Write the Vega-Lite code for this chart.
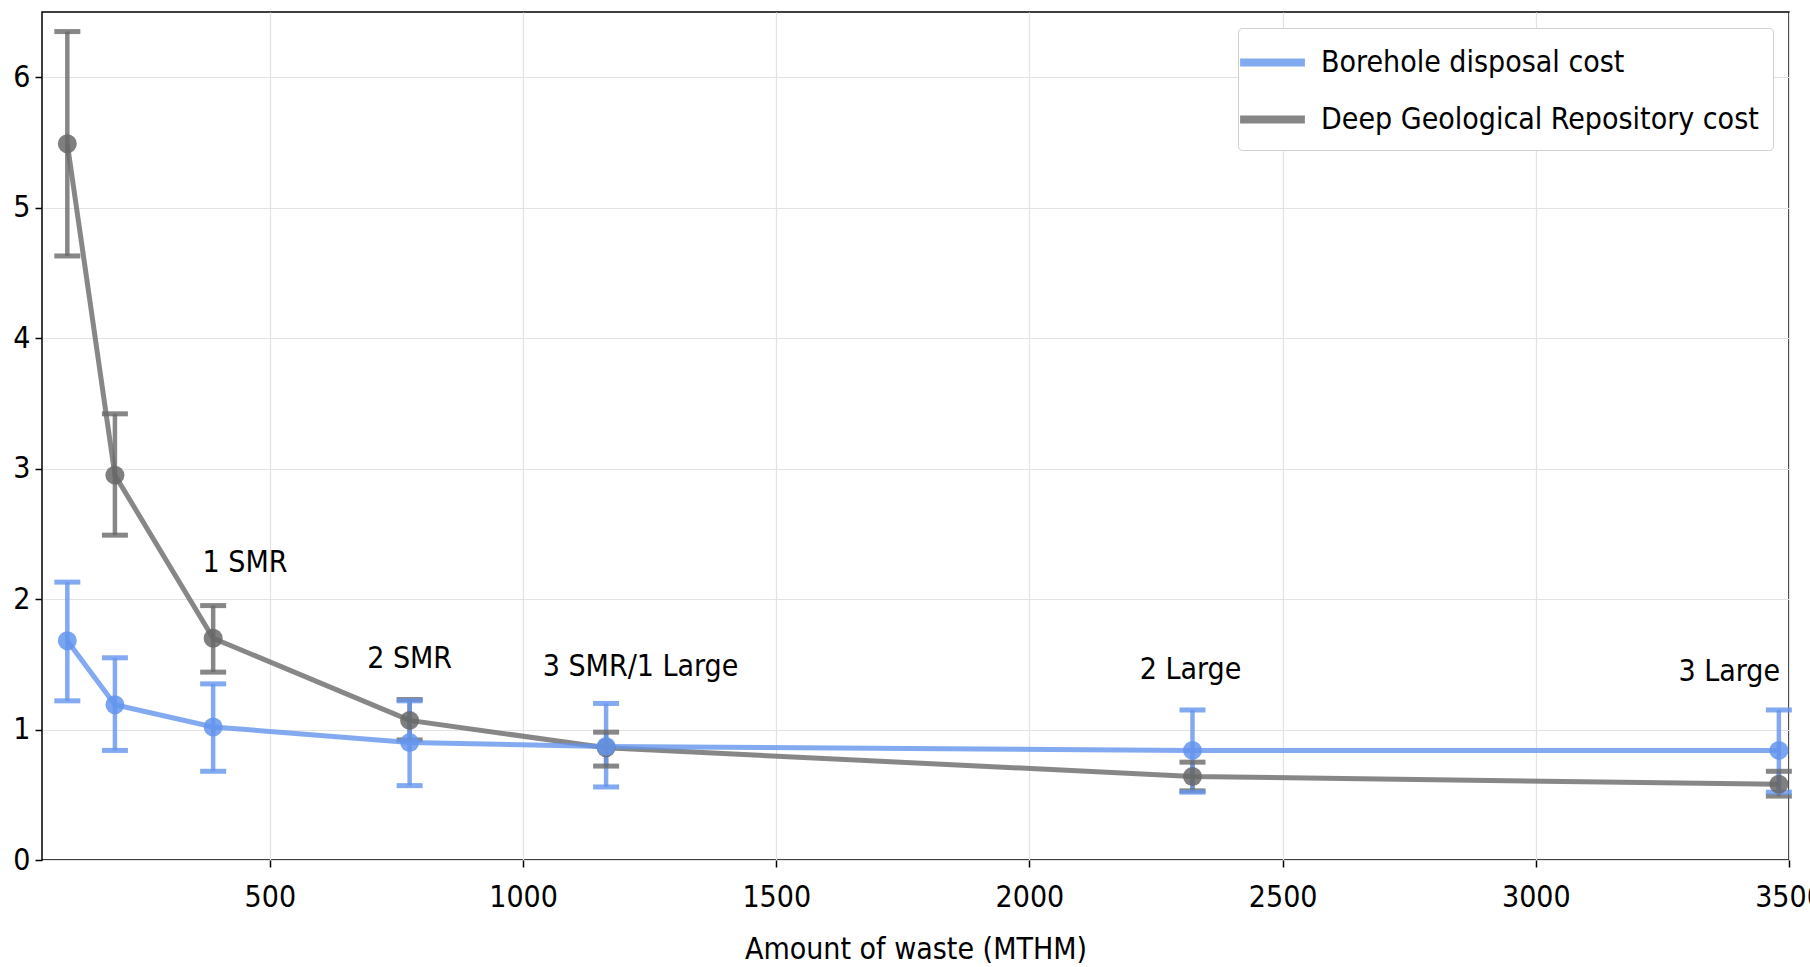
{
  "$schema": "https://vega.github.io/schema/vega-lite/v6.json",
  "autosize": "none",
  "width": 1747,
  "height": 848,
  "padding": {"left": 42, "top": 12, "right": 21, "bottom": 107},
  "background": "white",
  "datasets": {
    "costs": [
      {"series": "Deep Geological Repository cost", "waste": 100, "cost": 5.49, "lo": 4.63, "hi": 6.35},
      {"series": "Deep Geological Repository cost", "waste": 194, "cost": 2.95, "lo": 2.49, "hi": 3.42},
      {"series": "Deep Geological Repository cost", "waste": 388, "cost": 1.70, "lo": 1.44, "hi": 1.95},
      {"series": "Deep Geological Repository cost", "waste": 776, "cost": 1.07, "lo": 0.92, "hi": 1.23},
      {"series": "Deep Geological Repository cost", "waste": 1164, "cost": 0.86, "lo": 0.72, "hi": 0.98},
      {"series": "Deep Geological Repository cost", "waste": 2322, "cost": 0.64, "lo": 0.53, "hi": 0.75},
      {"series": "Deep Geological Repository cost", "waste": 3480, "cost": 0.58, "lo": 0.49, "hi": 0.68},
      {"series": "Borehole disposal cost", "waste": 100, "cost": 1.68, "lo": 1.22, "hi": 2.13},
      {"series": "Borehole disposal cost", "waste": 194, "cost": 1.19, "lo": 0.84, "hi": 1.55},
      {"series": "Borehole disposal cost", "waste": 388, "cost": 1.02, "lo": 0.68, "hi": 1.35},
      {"series": "Borehole disposal cost", "waste": 776, "cost": 0.90, "lo": 0.57, "hi": 1.22},
      {"series": "Borehole disposal cost", "waste": 1164, "cost": 0.87, "lo": 0.56, "hi": 1.20},
      {"series": "Borehole disposal cost", "waste": 2322, "cost": 0.84, "lo": 0.52, "hi": 1.15},
      {"series": "Borehole disposal cost", "waste": 3480, "cost": 0.84, "lo": 0.52, "hi": 1.15}
    ],
    "labels": [
      {"label": "1 SMR", "waste": 451, "cost": 2.28},
      {"label": "2 SMR", "waste": 776, "cost": 1.54},
      {"label": "3 SMR/1 Large", "waste": 1232, "cost": 1.48},
      {"label": "2 Large", "waste": 2318, "cost": 1.46},
      {"label": "3 Large", "waste": 3382, "cost": 1.44}
    ]
  },
  "encoding": {
    "x": {
      "field": "waste", "type": "quantitative",
      "scale": {"domain": [50, 3500], "nice": false, "zero": false},
      "axis": {"title": "Amount of waste (MTHM)", "format": "d", "labelFlush": false, "values": [500, 1000, 1500, 2000, 2500, 3000, 3500]}
    },
    "y": {
      "field": "cost", "type": "quantitative",
      "scale": {"domain": [0, 6.5], "nice": false},
      "axis": {"title": null, "values": [0, 1, 2, 3, 4, 5, 6]}
    }
  },
  "layer": [
    {
      "data": {"name": "costs"},
      "mark": {"type": "rule", "strokeWidth": 4.5, "opacity": 0.8},
      "encoding": {
        "y": {"field": "lo", "type": "quantitative"},
        "y2": {"field": "hi"},
        "color": {"field": "series", "type": "nominal"}
      }
    },
    {
      "data": {"name": "costs"},
      "mark": {"type": "tick", "orient": "horizontal", "size": 26, "thickness": 5, "opacity": 0.8},
      "encoding": {
        "y": {"field": "lo", "type": "quantitative"},
        "color": {"field": "series", "type": "nominal"}
      }
    },
    {
      "data": {"name": "costs"},
      "mark": {"type": "tick", "orient": "horizontal", "size": 26, "thickness": 5, "opacity": 0.8},
      "encoding": {
        "y": {"field": "hi", "type": "quantitative"},
        "color": {"field": "series", "type": "nominal"}
      }
    },
    {
      "data": {"name": "costs"},
      "mark": {"type": "line", "strokeWidth": 5, "opacity": 0.8},
      "encoding": {
        "color": {
          "field": "series", "type": "nominal",
          "scale": {"domain": ["Borehole disposal cost", "Deep Geological Repository cost"], "range": ["#6495ED", "#696969"]},
          "legend": {
            "title": null,
            "orient": "top-right",
            "offset": 16,
            "symbolType": "M-2,0H2",
            "symbolSize": 1050,
            "symbolStrokeWidth": 8,
            "symbolOpacity": 1,
            "symbolOffset": 0,
            "labelFontSize": 30,
            "labelLimit": 0,
            "labelOffset": 28,
            "rowPadding": 20,
            "padding": 14,
            "strokeColor": "#d0d0d0",
            "fillColor": "white",
            "cornerRadius": 4
          }
        }
      }
    },
    {
      "data": {"name": "costs"},
      "mark": {"type": "circle", "size": 360, "opacity": 0.85},
      "encoding": {
        "color": {"field": "series", "type": "nominal"}
      }
    },
    {
      "data": {"name": "labels"},
      "mark": {"type": "text", "fontSize": 30, "color": "black", "align": "center", "baseline": "middle"},
      "encoding": {
        "text": {"field": "label", "type": "nominal"}
      }
    }
  ],
  "config": {
    "font": "DejaVu Sans Condensed",
    "view": {"stroke": "#000", "strokeWidth": 1.5},
    "axis": {
      "grid": true,
      "gridColor": "#e3e3e3",
      "gridWidth": 1.2,
      "domain": false,
      "ticks": true,
      "tickColor": "#000",
      "tickSize": 7,
      "tickWidth": 1.5,
      "labelFontSize": 30,
      "labelColor": "#000",
      "titleFontSize": 30,
      "titleFontWeight": "normal",
      "titleColor": "#000"
    },
    "axisX": {"labelPadding": 15, "titlePadding": 22},
    "axisY": {"labelPadding": 5}
  }
}
